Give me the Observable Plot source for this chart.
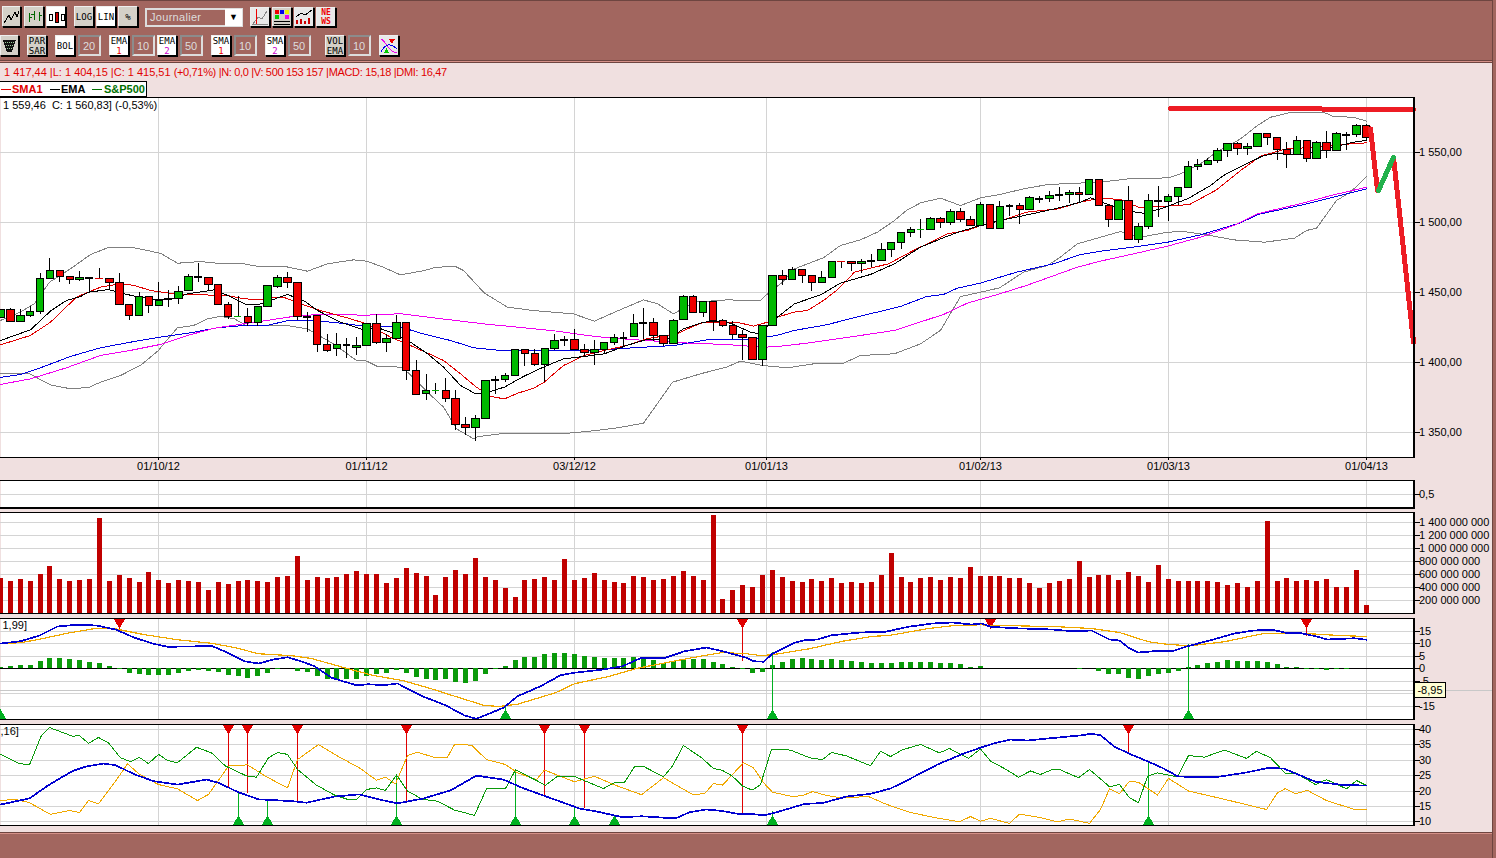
<!DOCTYPE html>
<html lang="fr"><head><meta charset="utf-8">
<script src="https://cdn.jsdelivr.net/npm/d3@7"></script>
<script src="https://cdn.jsdelivr.net/npm/@observablehq/plot@0.6"></script>
<style>
html,body{margin:0;padding:0;background:#f0e0e0;overflow:hidden;width:1496px;height:858px;font-family:"Liberation Sans",Arial,sans-serif;}
.abs{position:absolute;white-space:nowrap;}
.btn{position:absolute;box-sizing:border-box;border:1px solid #000;border-top-color:#eee;border-left-color:#eee;box-shadow:1px 1px 0 #000;font:9px/10px "DejaVu Sans Mono",monospace;text-align:center;color:#000;display:flex;align-items:center;justify-content:center;}
.inp{position:absolute;box-sizing:border-box;border:2px solid #8c8c8c;border-right-color:#ddd;border-bottom-color:#ddd;background:#a2665f;color:#ddd;font:11px/18px "Liberation Sans",sans-serif;padding-left:3px;}
svg.plot,svg{shape-rendering:crispEdges;}
svg text{shape-rendering:auto;}
</style></head><body>
<div id="chrome"></div>
<div id="panels"></div>
<script>
// ---------- price candles (index = trading day) ----------
const opens=[1431.9,1437.6,1429,1433.2,1436,1459.7,1465.5,1461,1459,1460,1459.8,1459.8,1456.9,1441,1433.2,1446.9,1440.3,1445,1445,1451,1461,1460.5,1455.5,1441,1432.6,1432.6,1428.3,1439.7,1454,1460.5,1456.9,1432.8,1433.2,1412.6,1409.7,1412.4,1410.5,1411.9,1427.4,1414,
1416.9,1428.3,1394,1377.6,1379.7,1379.7,1374,1355.5,1353.3,1359.7,1387.4,1387.6,1390.5,1409,1406.2,1398.3,1409.7,1415.9,1416.2,1409,1406.9,1409,1414,1417.8,1418.3,1428,1428.3,1419,1413.3,1430.5,
1446.9,1435.5,1443.3,1429.7,1426.2,1419.7,1417.6,1401.9,1426.2,1461.9,1459,1466.2,1461.9,1456.9,1460.5,1471.9,1471.9,1470.5,1472.4,1472.6,1480.5,1485.5,1492.6,1494.8,1494.8,1502.6,1499.8,1507.6,1501.9,1497.6,
1512.6,1495.5,1511.9,1511.9,1509,1517.1,1516.9,1519.5,1519.7,1521.2,1519.7,1530.5,1511.9,1501.9,1515.5,1487.6,1496.9,1515,1514.7,1518.3,1524.7,1539.7,1541.2,1544,1551.2,1556.2,1552.6,1554,1563.3,1560.5,
1551.9,1548.3,1558.3,1545.5,1556.9,1551.2,1562.8,1562.6,1569];
const highs=[1437.6,1438.3,1437.6,1440,1463.5,1474,1465.5,1461,1464.7,1460,1466.8,1459.8,1463.5,1441,1449.7,1446.9,1456.9,1451.4,1454,1462.6,1470.5,1460.5,1455.5,1442.6,1446.9,1438.3,1439.7,1454.7,1461.9,1464,1456.9,1435.5,1433.2,1419.8,1421,1416.9,1418,1427.4,1434,1419.8,
1433.2,1428.3,1401.2,1391.2,1384.7,1388.3,1379.7,1360.5,1361.9,1386.9,1389.7,1391.9,1409,1409,1409,1409.7,1419.7,1418.3,1423.3,1412.6,1415.5,1414,1419.7,1421.2,1434,1438.3,1431.2,1419,1430.5,1447.8,
1447.8,1443.8,1443.3,1430.5,1429,1422.6,1417.6,1426.2,1461.9,1465.5,1467.6,1466.2,1461.9,1464.8,1471.9,1471.9,1471.9,1473.3,1476.9,1484.8,1485.5,1492.6,1496.6,1501.9,1503.6,1503.3,1509.3,1510,1504,1514,
1512.6,1515,1512.6,1513.3,1518.6,1518.6,1522.1,1524.8,1522.6,1524.8,1530.5,1530.5,1511.9,1515.5,1525.7,1499,1520,1526,1519.7,1524.7,1543.6,1545,1545.5,1552.6,1556.2,1556.9,1556.2,1563.3,1563.3,1560.5,
1556.9,1561.2,1558.3,1557.6,1565,1564,1564,1569.7,1569.7];
const lows=[1431.9,1429,1429,1432.4,1434.3,1459.7,1457,1455.6,1457.5,1449.7,1459,1452,1441,1430,1433.2,1435,1440.3,1439,1441.6,1451,1456.9,1451.4,1441,1430.5,1432.6,1425.5,1425.5,1439.7,1453,1452.6,1429.7,1421.6,1407.4,1406.9,1404.5,1403,1405,1411.9,1412.6,1407.4,
1416.9,1387.4,1376.9,1372.6,1376.9,1371.2,1351.7,1347.6,1343.3,1359.7,1376.9,1385.9,1390.5,1397.4,1397.4,1385.5,1408.3,1411.2,1409,1403.3,1398,1405.5,1412,1410.5,1418.3,1416.2,1414.7,1411.2,1413.3,1430.5,
1435.5,1432.4,1422.4,1424.7,1416.2,1401.2,1401.9,1397.4,1426.2,1455,1459,1456.2,1451,1456.9,1460.5,1466.9,1464.8,1463.3,1467.6,1472.6,1475.2,1481,1489.5,1488.6,1494.8,1496,1497.6,1499.8,1497.6,1497.6,
1494.8,1495.5,1504.5,1498.3,1509,1513.3,1514.3,1514.8,1513.3,1514.3,1519.7,1511.9,1496.6,1501.9,1487.6,1484.8,1494.8,1503.8,1500.7,1512.1,1524.7,1537.4,1541.2,1541.9,1546.4,1547.8,1547.8,1554,1555,1544.5,
1538.3,1548.3,1543,1545.5,1546,1551.2,1551.4,1560.9,1558.3];
const closes=[1437.6,1429,1433.2,1436,1459.7,1465.5,1461,1459,1460.5,1460,1459.8,1456.9,1441,1433.2,1446.9,1440.3,1444,1445,1450.5,1461,1461,1455.5,1441,1432.6,1432.6,1428.3,1439.7,1454.7,1460.5,1456.9,1432.6,1432.8,1412.6,1408.3,1412.6,1412.4,1411.9,1427.4,1414,1416.9,
1428.3,1394,1376.9,1379.7,1379.7,1374,1355.5,1353.3,1359.7,1386.9,1387.4,1390.5,1409,1406.2,1398.3,1409.7,1415.5,1415.9,1409,1406.9,1409,1414,1417.6,1417.8,1427.6,1428,1419,1413.3,1429.7,1446.9,
1435.5,1443.3,1429.7,1426.2,1419.7,1417.6,1401.9,1426.2,1461.9,1459,1466.2,1461.9,1456.9,1460.5,1471.9,1471.9,1470.5,1471.9,1472.4,1480.5,1485.5,1492.6,1494.8,1494.8,1502.6,1499.8,1507.6,1501.9,1497.6,1512.6,
1495.5,1511.2,1511.9,1509,1517.6,1517.1,1519,1519.5,1521.2,1519.7,1530.5,1511.9,1501.9,1515.5,1487.6,1496.9,1515.5,1515,1518.3,1524.7,1539.7,1541.2,1544,1551.2,1556.2,1552.6,1554,1563.3,1560.5,1551.9,
1548.3,1558.3,1545.5,1556.9,1551.2,1563.3,1562.8,1569,1560.5];
const thinDoji={10:"#e00000",24:"#00b000",44:"#00b000",85:"#e00000",93:"#00b000"};
// ---------- indicators: reading index, reading value ----------
const bbUpIdx=[0,2,3.4,5,7.1,9.1,10.8,13.5,16.2,17.9,20.2,21.9,24.3,25.9,28.6,31,33,35.7,37,38.7,40.4,42.8,44,46,46.8,48.9,51.2,53.9,57.9,60,62,65,66.4,68,70,73.4,76.8,77.5,79,80.2,83.2,84.9,86.9,88.6,90.3,91.6,93,95,97,99,101,103.4,105.8,108.8,111.2,114,118,119.2,121.3,122.9,125.3,127,128.3,130.5,133.7,134.7,136.7,138];
const bbUpVal=[1430,1436,1442,1457.4,1466.9,1477.1,1481.9,1481.9,1478,1470.9,1472.1,1470.9,1470.9,1468.8,1468.8,1465.2,1470.5,1473.3,1472.4,1468,1462.6,1465.7,1468,1468.6,1465.7,1449.5,1439.5,1437.1,1434.7,1429.5,1435.9,1444.7,1441.9,1434.7,1443,1444.7,1444.3,1449,1457.4,1466.9,1474.8,1483.6,1487.6,1493.1,1501.4,1508.6,1514,1517.4,1512.1,1517.6,1520,1524,1527.1,1528.1,1528.8,1531.2,1531.9,1534.7,1541.9,1550.2,1559.7,1569.3,1575.2,1578.8,1578.8,1575.7,1575.2,1572.4];
const bbLoIdx=[0,2.9,5.1,7.1,8.9,10.1,12.1,14.1,16,16.8,17.9,19.5,20.9,22.2,23.6,24.9,26.6,29,31,33.7,36,37,38.1,40.4,41.1,43.1,44.8,46.1,47.8,48.3,50.5,56.6,59.3,62.3,65,67.9,70.7,73.4,74.8,77,79.5,82.2,85.2,86.9,90.3,93,95,97,99,101,103.4,105.8,107,108.8,111.2,113.2,115.2,117.9,119.6,122.3,124.6,127.7,130.8,132,133,135,136.4,138];
const bbLoVal=[1391.9,1391.9,1384,1381.2,1382.1,1385.9,1390.7,1397.9,1408.6,1415.7,1424.8,1426.4,1431.2,1432.9,1431.2,1426.2,1426.4,1426.4,1424,1413.3,1401.4,1401,1397.1,1396.7,1393.1,1378.8,1368.1,1352.6,1345.5,1347.1,1349,1349,1350.7,1353.3,1356.6,1385.9,1391.9,1396.7,1400.9,1397.8,1396.2,1399,1399.5,1405,1406.2,1413.3,1422.9,1447.1,1450.2,1453.3,1464.5,1469.3,1474.8,1484.8,1489.5,1493.5,1489.5,1493.1,1493.5,1490.7,1487.6,1485.9,1488.8,1494.3,1495.9,1515.7,1521.7,1532.8];
const ema50Idx=[0,2,4,7.1,10.1,13.1,16.2,19.2,21.9,24.6,26.9,29,32,35,37,40.4,42.4,45.5,47.8,50.5,53.9,57.9,61.3,64,68,71.4,74,76.3,78.4,80.2,83.5,86.9,90.9,93.6,95.3,96.7,99,102.7,106.4,109.1,111.2,114.5,117.9,121.3,125.3,127,131.3,134.7,138];
const ema50Val=[1389.3,1391.4,1396.2,1404.3,1410.5,1414.5,1418.1,1421.2,1424.8,1426.4,1426.4,1429.8,1429.8,1427.6,1425.7,1425.5,1420.9,1415.7,1410.5,1408.6,1408.3,1408.3,1409.3,1410.5,1412.1,1416.2,1416.2,1416.9,1419.3,1422.9,1426.9,1433.1,1440,1447.1,1448.6,1453.1,1456.7,1464.5,1470.5,1477.1,1479.5,1482.4,1485.9,1491.2,1499.7,1505.7,1512.1,1518.1,1524];
const sma50Idx=[0,3,6.7,10.1,13.1,16.2,18.9,21.6,24.6,26.9,29.6,32,37,40.4,43.8,48.8,52.2,56.2,59.3,61.3,65.3,69,73.4,77.1,78.5,81.8,86.9,90.3,95.3,97.7,100.4,103.7,108.8,111.2,114.5,117.9,121.3,124.6,127,131.3,134.7,138];
const sma50Val=[1384.3,1388.3,1396.2,1405,1408.6,1412.9,1419.3,1424.5,1427.6,1430,1432.9,1434.3,1433.8,1434.8,1431.9,1427.6,1425.2,1422.4,1419.3,1417.6,1415.7,1414,1412.8,1410.9,1411.4,1414,1419.3,1422.9,1434.3,1442.4,1447.9,1455,1468.1,1472.4,1477.6,1483.1,1489.5,1497.8,1506.2,1513.3,1519.7,1525.2];
const emaIdx=[0,3,5.1,6.7,8.1,8.9,10.9,12.5,14,15.8,17.5,18.9,21.6,22.9,24.9,26.6,28,29,30.7,32,34.4,36.7,38,40,41.4,43.1,44.8,46.5,48,49.5,50.9,52.9,54.9,56.9,59,61,63.3,65.3,67.4,69,71,72.4,73.8,75.8,76.6,78.5,80.2,83,84.9,87.9,90.3,93,95.6,97,99,101.4,103,106.5,109.1,110.1,111.8,114.2,115.5,117.2,119.9,122.3,123.6,125.9,127.6,129,131,133,134.7,136.7,138];
const emaVal=[1415.7,1423.3,1436.7,1444.3,1447.1,1450.2,1452.1,1449,1446.6,1444.8,1445.5,1449,1451.9,1447.9,1441.2,1441.9,1446.2,1448.6,1443.8,1437.1,1428.8,1423.3,1425.2,1420,1414.5,1406.2,1396.7,1383.6,1377.6,1379.3,1382.4,1390,1396.7,1402.6,1404.3,1406.2,1412.1,1416.4,1416.4,1424,1428.8,1429.3,1428.1,1421.7,1420.5,1432.4,1441.9,1448.6,1456.7,1462.9,1470.5,1482.4,1490,1493.6,1497.9,1501.9,1504.3,1509.7,1514.5,1517.6,1513.3,1508,1506.6,1509.7,1516.9,1526.4,1533.6,1541.9,1547.8,1549.7,1548.3,1550.2,1553.8,1557.4,1558.6];
const smaIdx=[0,3,5.1,7.7,10.1,12.1,13.5,15.2,17.5,20.2,22.9,24.6,26.6,27.6,28.6,30.3,32.3,35.4,37,39.4,41.4,43.1,44.8,46.5,48,49.5,50.9,52.2,53.9,54.9,56.9,59,61,63.3,65.3,68.4,69.4,71,74.4,76.1,77.5,78.5,80.2,81.5,83.2,84.5,86.3,89.7,92.3,95.7,97.7,99,101.4,103.7,106.8,109.1,111.2,113.2,115,117.9,120.1,122.9,125.3,127.3,130,133,135.4,138];
const smaVal=[1412.6,1419.3,1428.8,1446.7,1453.8,1456.2,1455,1451.4,1449,1448.3,1447.9,1445.5,1444.8,1446.6,1446.6,1441.9,1437.1,1431.2,1427.6,1418.1,1412.1,1406.7,1401.4,1391.9,1382.8,1375.7,1374,1378,1381.6,1385.5,1397.8,1405,1408.6,1412.1,1416.9,1420.5,1424,1428.8,1428.8,1426,1428.8,1432.4,1436,1437.1,1444.3,1451.4,1464.5,1470.5,1480,1491.9,1494.3,1497.9,1501.9,1507.4,1509.7,1514.5,1517.4,1516.4,1510.9,1511.7,1512.8,1523.3,1537.1,1547.4,1552.6,1553.8,1555.7,1556.9];
// hand-drawn overlays on the price panel
const resistIdx=[118.2,130.6,142.8], resistVal=[1581.2,1581.2,1580.7];
const dropAIdx=[138.44,139.1], dropAVal=[1566.9,1522.9];
const bounceIdx=[139.25,140.8], bounceVal=[1522.9,1546.6];
const dropBIdx=[140.8,142.75], dropBVal=[1546.6,1414.5];
// volume, in millions
const volume=[544,497,528,497,605,728,528,497,513,528,1467,497,590,544,482,636,513,467,513,497,482,359,482,451,497,513,497,482,559,574,882,513,559,544,559,605,651,605,605,467,544,697,620,574,282,559,667,605,851,559,513,390,251,513,528,559,513,836,513,544,620,513,482,467,574,559,513,528,574,651,574,513,1513,221,359,436,405,590,667,559,497,482,528,497,544,467,482,467,482,590,928,559,482,544,559,513,559,544,713,574,574,574,544,544,467,390,467,497,528,805,559,590,590,513,636,574,482,744,528,497,497,497,497,482,436,467,405,497,1421,497,544,497,513,497,528,405,405,667,128];
// MACD histogram, MACD, signal
const macdHist=[0.5,0.9,1.3,1.3,2.9,4.1,4.1,3.7,3.2,2.5,2.1,0.9,-0.5,-2.1,-2.5,-2.9,-2.9,-2.9,-2.1,-1.3,-0.9,-1.1,-1.7,-2.9,-3.3,-4.1,-3.3,-2.1,-0.5,0,-1.3,-1.7,-3.3,-4.5,-4.7,-4.5,-4.5,-3.3,-2.5,-2.1,-0.9,-2.1,-3.7,-4.5,-4.7,-4.4,-5.7,-5.9,-5.3,-2.5,-0.5,0.9,3.3,4.5,4.5,5.6,6.1,6.1,5.7,4.9,4.5,4.1,4.1,4.1,4.5,4.1,3.3,2.1,2.9,3.3,3.7,3.7,2.5,1.7,0.5,-0.5,-2.1,-1.5,1.3,2.5,3.7,4.1,3.7,3.3,3.7,3.3,2.9,2.5,2.1,2.1,2.1,2.5,2.5,2.5,2.5,2.1,2.1,1.7,0.5,0.9,0,0,0,0,0,0,0,0,0,-0.5,0,-1.3,-2.5,-2.5,-4.1,-4.5,-3.3,-2.5,-2.1,-1.1,0.5,1.3,2.1,2.5,3.3,2.9,2.9,2.9,2.5,1.7,0.4,0.4,-0.5,-0.5,-0.9,-0.5,-0.5,0,0];
const macdIdx=[0,2,3.9,5.8,7.7,9.7,11.6,13.5,15.5,16.9,19.3,21.3,22.7,24.7,26.1,27.6,29,30.5,31.7,33.4,34.8,36,37.2,38.7,40.1,41.6,42.6,45,46.9,48.1,50.8,52.2,54.6,56.6,58,60.9,62.9,64.8,67.2,69.1,71.3,73,75.4,76.1,77.1,78,80.2,81.2,82.6,84,86.9,89.4,91.8,94.2,96.2,98.1,99.1,100,102.5,106.3,108.3,110.2,112.1,113.1,114.1,115,116.5,118.4,119.9,122.3,124.7,126.6,128.5,129.9,131.5,132.9,134.1,136.8,138];
const macdVal=[10,10.9,13.2,16.8,17.5,17.2,15.6,12.3,9.9,8.7,8.8,9.1,6.7,2.9,2,3.6,4.5,2.7,0.9,-3.7,-5.3,-6.7,-6.3,-6.7,-6,-9.1,-11.1,-14.7,-18.8,-20.1,-15.7,-11.1,-7.1,-2.7,-1.7,-0.4,0.9,4.3,4.3,6.9,8.4,6.9,4.3,2.9,2.7,5.9,10.3,11.3,11.6,13.3,14.4,14.7,16.7,18,18.4,17.6,18,16.7,16.1,15.6,14.9,15.2,11.6,11.2,8,6.4,6.9,6.9,8.9,11.3,14,15.2,15.5,14.3,14.1,12.9,11.6,12.1,11.5];
const signalIdx=[0,2,3.9,6.8,9.7,11.4,14.5,17.9,21.3,23.7,26.1,29.5,31.4,34.8,37.7,40.6,43.5,46.4,48.8,50.3,52.2,56.1,58,61.4,64.3,67.7,71.1,73,75.4,76.8,78,81.7,85.1,88,89.9,93.8,96.2,99.1,100,102.5,106.9,110.2,113.1,116,118,120.3,123.7,127.6,131.9,135.3,138];
const signalVal=[10,10.3,11.7,14.1,16.1,16,13.6,11.5,10.1,8.3,5.9,5.1,4,0.3,-2.8,-4.8,-8,-11.7,-14.7,-15.2,-14.3,-9.7,-6.1,-3.2,0,2.7,5.2,6.4,5.9,5.2,5.5,7.9,10.9,12.8,13.3,16,17.1,17.5,17.1,17.1,16.7,16,14.4,10.7,9.6,9.1,10.7,14,14,13.2,12.8];
const macdSellIdx=[12,75,100,132], macdSellVal=[15.6,2.9,16.7,12.9];
const macdBuyIdx=[0,51,78,120], macdBuyVal=[-20.4,-15,6.3,9.6];
// DMI panel
const adxIdx=[0,2.9,4.8,7.3,8.7,10.4,11.6,13.5,15.5,17.9,20.8,22,23.9,26.1,29.5,30.9,33.8,36.3,38.2,40.1,42.6,45.5,48.1,50.8,52.7,55.1,58.5,60,62.9,64.8,68.2,69.6,71.3,73,74.5,75.8,77.1,78.3,81.2,83.1,85.5,87.9,89.9,91.8,94.7,97.1,99.1,100.5,102.1,103.8,106.3,109.2,110.2,111.2,112.6,114.1,116,117.4,118.9,120.4,122.8,125.7,128.1,129.6,130.9,132.9,135.8,138];
const adxVal=[15.6,17.6,21.9,26.5,28,28.9,28.4,25.4,23.2,22.1,23.7,22.7,19.7,17.3,16.7,16.2,18.2,18.9,17.3,16,17.5,20.2,25,23.7,21,18.3,14.3,13.5,11.5,11.8,11.1,13.1,14,13.5,12.6,12.6,12.1,13,15.8,16.1,18.2,19.1,20.8,23.7,28.6,31.9,34.2,35.6,36.7,36.4,37.2,38.1,38.6,38.1,34.4,32.1,29.5,27.5,24.8,24.5,24.5,25.9,27.5,27.3,25.7,23,21.9,21.8];
const plusIdx=[0,1.9,2.9,4.1,5,7.3,8,8.9,9.9,10.9,12.1,13.1,14,15,16,16.9,17.9,19.8,21.3,22.7,24.9,25.9,27.1,28,29,30,31.9,33.8,35.1,36,37,38,38.9,40,41.1,42.6,44.2,45.9,47.9,49.1,51,52,55.1,56.3,58,60.9,62.1,63.1,64.1,65,67,67.9,69,70.8,72,73,74,75,75.8,76.1,76.8,77.9,79.8,81.7,83.1,84,85.5,87.9,88.9,89.9,91.1,93,94.9,95.9,97.8,99,100,101.5,102.9,104.1,105.1,106.3,107,108.9,110,112.1,113.1,114.1,115,115.9,116.9,118.9,120,121.7,123.7,125.9,126.9,128.3,129.9,130.9,132.9,134,136,137,138];
const plusVal=[31.9,28.9,28.5,38.1,40.6,37.8,38,35.5,37.4,35.6,30.8,29.5,30.9,28.9,31.9,29.9,29.2,34.2,32.4,28.1,24.9,24.5,30.8,32.5,31.9,27,21.9,18.7,17.3,17.3,20.5,21,20.2,25.2,20,17.3,16.7,13.8,12.1,20.7,20.8,26.9,21.9,24.8,24.7,20.8,22.9,22.8,27.9,28,24.6,28.1,34.8,30.8,27.3,26.7,24.8,21.6,20.5,20.5,22.1,33.5,33.3,30.8,30.2,32.5,31.4,28.2,32.9,31.2,33.4,35.1,32.4,33.8,30.6,33.7,29.7,27.3,24.5,26.5,25.4,27,27,24.3,27,21.4,22.1,17.8,16.2,24.8,25.9,24.6,31.5,31,33.3,30.6,32.9,30.8,25.7,25.9,22.1,23.7,20.7,23.4,21.8];
const minusIdx=[0,1.5,2.9,5.1,7,8,8.9,9.9,11.6,12.8,14,16,17.9,19.9,21,23,25,26.8,29,30,32.1,34.3,36.3,38,38.9,39.9,41.1,42.1,44,45.2,45.9,47.6,49.1,51,52.2,54.2,55,58,60,61.9,64.8,67,69.9,71.1,72,73,75.1,76.1,77.1,78,80,81,82.1,83.6,85,87.7,89.4,91.8,94.2,96.9,98,99,100,102,103,104.9,106.8,108,110,111.2,112.1,113.1,114.1,115,116.9,118,120,123.7,127.9,129,129.9,130.9,132.1,134,136.8,138];
const minusVal=[16.9,17.3,16.2,12.4,13.7,13,16.9,15.8,23.2,28.8,25.4,22.1,20.7,16.9,18.9,28.1,28.5,24.8,21,30.2,35.1,31,27.5,23.5,24.5,22.3,31.5,32.6,30.8,31,35.1,34.9,30.2,28.6,25.9,23.7,26.8,23,24.8,22.1,18.8,24.3,18.9,19.1,22.4,21.9,29.2,27.5,22.7,19.6,18.2,18.5,19.8,18.5,17.8,18.2,15.8,13.2,11.5,10,11.7,10.2,11.1,9.5,12.5,11.5,10,10.9,9.5,14,20.7,19.1,23.2,22.8,18.7,24.1,20,17.3,14,19.4,20.8,19.1,20.2,16.9,14,14];
const dmiSellIdx=[23,25,30,41,55,59,75,114], dmiSellVal=[21,19.1,16.5,16.2,18.3,14.3,12.6,31.9];
const dmiBuyIdx=[24,27,40,52,58,62,78,116], dmiBuyVal=[19.4,17.3,25.4,26.7,15,11.3,13.5,29.7];
// axes
const dateTicks=[16,37,58,77.44,99,118,138];
const dateLabels=["01/10/12","01/11/12","03/12/12","01/01/13","01/02/13","01/03/13","01/04/13"];
const priceTicks=[1350,1400,1450,1500,1550];
const unitTick=[0.5];
const volumeTicks=[200,400,600,800,1000,1200,1400];
const macdTicks=[15,10,5,0,-5,-10,-15];
const macdLabels=[15,10,5,0,-5,-15];
const dmiTicks=[10,15,20,25,30,35,40];
// toolbar labels
const row1=[[2,19,"~","g"],[24,20,"o","g"],[46,20,"c","w"],[74,20,"LOG","g"],[96,20,"LIN","w"],[118,20,"%","g"]];
const row1Icons=[250,272,294,316];
const row2=[[0,19,"u","g"],[27,20,"PAR<br>SAR","g"],[55,20,"BOL","w"],[109,20,"EMA<br><span style='color:#e00'>1</span>","w"],[157,20,"EMA<br><span style='color:#c0c'>2</span>","w"],[211,20,"SMA<br><span style='color:#e00'>1</span>","w"],[265,20,"SMA<br><span style='color:#c0c'>2</span>","w"],[325,20,"VOL<br>EMA","g"]];
const row2Inputs=[[78,"20"],[132,"10"],[180,"50"],[234,"10"],[288,"50"],[348,"10"]];

const FONT="'Liberation Sans',Arial,sans-serif";
const chrome=document.getElementById("chrome");
function el(cls,css,html){const d=document.createElement("div");d.className=cls;d.style.cssText=css;d.innerHTML=html||"";chrome.appendChild(d);return d;}
const BROWN="#a2665f";
el("abs",`left:0;top:0;width:1496px;height:60px;background:${BROWN};border-top:1px solid #6e4540`);
el("abs",`left:0;top:60px;width:1496px;height:1px;background:#6e4540`);
el("abs",`left:0;top:61px;width:1496px;height:1px;background:#d49088`);
el("abs",`left:0;top:62px;width:1496px;height:1px;background:#6e4540`);
el("abs",`left:0;top:832px;width:1496px;height:1px;background:#6e4540`);
el("abs",`left:0;top:833px;width:1496px;height:1px;background:#d49088`);
el("abs",`left:0;top:834px;width:1496px;height:24px;background:${BROWN}`);
el("abs",`left:1492px;top:0;width:4px;height:858px;background:${BROWN};border-left:1px solid #6e4540`);
const glyph={
 "~":'<svg width="17" height="16"><path d="M1 14L6 6L8 11L12 3L14 8L16 2" fill="none" stroke="#000"/></svg>',
 "o":'<svg width="18" height="16"><path d="M4 4V13M4 8H7M9 2V11M9 5H6M14 3V12M14 6H17" fill="none" stroke="#060"/></svg>',
 "c":'<svg width="18" height="16"><rect x="2" y="5" width="3" height="6" fill="none" stroke="#000"/><rect x="8" y="3" width="3" height="10" fill="#c00" stroke="#000"/><rect x="14" y="5" width="3" height="6" fill="none" stroke="#000"/></svg>',
 "u":'<svg width="15" height="15"><path d="M1 2H14L10 14H5Z" fill="#111"/><path d="M3 4H12M4 7H11M5 10H10" stroke="#9c9" stroke-dasharray="1 1"/></svg>'};
function btn(x,y,w,label,kind){el("btn",`left:${x}px;top:${y}px;width:${w}px;height:21px;background:${kind==="w"?"#fff":"#d4d0c8"}`,glyph[label]||`<div>${label}</div>`);}
row1.forEach(([x,w,l,k])=>btn(x,6,w,l,k));
row2.forEach(([x,w,l,k])=>btn(x,35,w,l,k));
row2Inputs.forEach(([x,t])=>el("inp",`left:${x}px;top:35px;width:23px;height:21px;`,t));
el("inp",`left:145px;top:8px;width:98px;height:19px;border-color:#ddd;line-height:15px;letter-spacing:.3px`,"Journalier");
el("abs",`left:225px;top:9px;width:17px;height:17px;background:#fff;text-align:center;font:9px/17px sans-serif`,"▼");
const ic1=[
 '<svg width="18" height="18"><path d="M2 16L7 9L11 11L16 3" fill="none" stroke="#888"/><path d="M5 1V17" stroke="#e00"/><path d="M1 16H17" stroke="#888"/></svg>',
 '<svg width="18" height="18"><rect x="2" y="2" width="4" height="4" fill="#e00"/><rect x="7" y="2" width="4" height="4" fill="#00e"/><rect x="12" y="2" width="4" height="4" fill="#ee0"/><rect x="2" y="7" width="4" height="4" fill="#0c0"/><rect x="12" y="7" width="4" height="4" fill="#e0e"/><path d="M1 13H17M1 16H17" stroke="#000"/></svg>',
 '<svg width="18" height="18"><path d="M1 9L6 5L10 7L17 2" fill="none" stroke="#000"/><path d="M2 16V12M6 16V11M10 16V13M14 16V10" stroke="#c00" stroke-width="2"/></svg>',
 '<div style="color:#e00;font:bold 8px/9px \'DejaVu Sans Mono\',monospace">NE<br>WS</div>'];
row1Icons.forEach((x,i)=>el("btn",`left:${x}px;top:7px;width:20px;height:20px;background:${i===1?"#d4d0c8":"#e8e8e8"}`,ic1[i]));
el("btn",`left:379px;top:35px;width:20px;height:21px;background:#e8e8e8`,'<svg width="18" height="18"><path d="M1 2C6 4 8 15 17 16" fill="none" stroke="#e0e"/><path d="M1 15C6 6 10 6 17 12" fill="none" stroke="#00e"/><path d="M9 2H15L12 7Z" fill="#e00"/><path d="M4 16H9L6.5 11Z" fill="#0c0"/></svg>');
el("abs",`left:4px;top:66px;color:#e00000;font:11px/13px ${FONT}`,`1 417,44 |L: 1 404,15 |C: 1 415,51 <span style="letter-spacing:-.33px">(+0,71%) |N: 0,0 |V: 500 153 157 |MACD: 15,18 |DMI: 16,47</span>`);
el("abs",`left:-1px;top:81px;width:146px;height:14px;background:#fff;border:1px solid #000;font:bold 11px/14px ${FONT}`,
 `<span style="position:absolute;left:1px;top:7px;width:10px;height:1px;background:#e00000"></span><span style="position:absolute;left:12px;color:#e00000">SMA1</span>
  <span style="position:absolute;left:50px;top:7px;width:10px;height:1px;background:#000"></span><span style="position:absolute;left:61px;color:#000">EMA</span>
  <span style="position:absolute;left:92px;top:7px;width:10px;height:1px;background:#007000"></span><span style="position:absolute;left:104px;color:#007000">S&amp;P500</span>`);

// ---------- plotting ----------
const GRID="#d4d4d4", X_END=1413.5, STEP=9.896, xMax=X_END/STEP;
const idx=d3.range(opens.length);
const poly=(xs,ys,stroke,strokeWidth=1)=>Plot.line(xs.map((_,i)=>i),{x:i=>xs[i],y:i=>ys[i],stroke,strokeWidth});
const frame=()=>[Plot.frame({anchor:"top",strokeWidth:1.5}),Plot.frame({anchor:"bottom",strokeWidth:1.5}),Plot.frame({anchor:"right",strokeWidth:1.5})];
function panel({top,bottom,domain,ticks,labels,fmt,marks,mb=3,xAxis=false}){
  const mt=2, height=bottom-top+mt+mb;
  const p=Plot.plot({width:1496,height,marginLeft:0,marginRight:1496-X_END,marginTop:mt,marginBottom:mb,
    style:{background:"transparent",fontFamily:FONT,fontSize:"11px",overflow:"hidden",color:"#000"},
    x:{domain:[0,xMax],axis:null,round:true},y:{domain,axis:null},
    marks:[Plot.frame({fill:"#fff",stroke:null}),
      Plot.ruleX(dateTicks,{stroke:GRID}),
      Plot.ruleY(ticks,{stroke:GRID}),
      ...marks,
      ...frame(),
      Plot.axisY(labels||ticks,{anchor:"right",tickSize:5,tickPadding:0,tickFormat:fmt,label:null,stroke:"#000",fill:"#000"}),
      ...(xAxis?[Plot.axisX(dateTicks,{anchor:"bottom",tickSize:3,tickPadding:2,tickFormat:(d)=>dateLabels[dateTicks.indexOf(d)],label:null,stroke:"#000",fill:"#000"})]:[])
    ]});
  p.style.position="absolute";p.style.left="0";p.style.top=(top-mt)+"px";p.style.maxWidth="none";
  document.getElementById("panels").appendChild(p);
}
const spaced=n=>String(n).replace(/\B(?=(\d{3})+(?!\d))/g," ");
const priceFmt=v=>spaced(v)+",00";
const signals=(xs,ys,color,edge,up)=>[
  Plot.ruleX(xs.map((_,i)=>i),{x:i=>xs[i],y1:()=>edge,y2:i=>ys[i],stroke:color}),
  Plot.dot(xs.map((_,i)=>i),{x:i=>xs[i],y:()=>edge,symbol:"triangle",r:4,fill:color,stroke:"none",rotate:up?0:180,dy:up?-4:4})];

panel({top:97,bottom:457,domain:[1332.1,1589.3],ticks:priceTicks,fmt:priceFmt,mb:30,xAxis:true,marks:[
  poly(bbUpIdx,bbUpVal,"#808080"),poly(bbLoIdx,bbLoVal,"#808080"),
  poly(ema50Idx,ema50Val,"#0000e0",1),poly(sma50Idx,sma50Val,"#f000f0",1),
  poly(smaIdx,smaVal,"#e00000"),poly(emaIdx,emaVal,"#000"),
  Plot.ruleX(idx,{x:i=>i,y1:i=>lows[i],y2:i=>highs[i],stroke:"#000"}),
  Plot.rect(idx.filter(i=>opens[i]!==closes[i]),{x1:i=>i-0.38,x2:i=>i+0.38,y1:i=>opens[i],y2:i=>closes[i],
    fill:i=>closes[i]>opens[i]?"#00b900":"#f00000",stroke:"#000",strokeWidth:1}),
  Plot.ruleY(idx.filter(i=>opens[i]===closes[i]&&!thinDoji[i]),{x1:i=>i-0.38,x2:i=>i+0.38,y:i=>opens[i],stroke:"#000",strokeWidth:2}),
  Plot.ruleY(idx.filter(i=>thinDoji[i]),{x1:i=>i-0.38,x2:i=>i+0.38,y:i=>opens[i],stroke:i=>thinDoji[i]}),
  poly(resistIdx,resistVal,"#ed1c24",5),
  poly(dropAIdx,dropAVal,"#ed1c24",5),poly(dropBIdx,dropBVal,"#ed1c24",5),poly(bounceIdx,bounceVal,"#22b14c",5)
]});
panel({top:479.5,bottom:507,domain:[0,1],ticks:unitTick,fmt:v=>String(v).replace(".",","),marks:[]});
panel({top:511.5,bottom:612.5,domain:[0,1554],ticks:volumeTicks,fmt:v=>spaced(v*1e6),marks:[
  Plot.ruleX(idx,{x:i=>i,y1:()=>0,y2:i=>volume[i],stroke:"#c00000",strokeWidth:5})
]});
panel({top:617.5,bottom:718.5,domain:[-20.4,20],ticks:macdTicks.filter(v=>v!==0),labels:macdLabels,fmt:d=>String(d),marks:[
  Plot.ruleY([-8.95],{x1:()=>0,x2:()=>150.8,stroke:"#c8c8c8"}),
  Plot.ruleY([0],{stroke:"#000",strokeWidth:1}),
  Plot.ruleX(idx,{x:i=>i,y1:()=>0,y2:i=>macdHist[i],stroke:"#0a9a0a",strokeWidth:5}),
  ...signals(macdSellIdx,macdSellVal,"#e00000",20,false),
  ...signals(macdBuyIdx,macdBuyVal,"#00b020",-20.4,true),
  poly(signalIdx,signalVal,"#f0a800",1.2),poly(macdIdx,macdVal,"#0000d0",1.7),
  Plot.text(["1,99]"],{frameAnchor:"top-left",dx:2,dy:3,fill:"#000",textAnchor:"start"})
]});
panel({top:723.5,bottom:824.5,domain:[8.8,41.6],ticks:dmiTicks,fmt:d=>String(d),marks:[
  ...signals(dmiSellIdx,dmiSellVal,"#e00000",41.6,false),
  ...signals(dmiBuyIdx,dmiBuyVal,"#00b020",8.8,true),
  poly(minusIdx,minusVal,"#f0a800",1),poly(plusIdx,plusVal,"#0a9a0a",1),poly(adxIdx,adxVal,"#0000d0",1.7),
  Plot.text([",16]"],{frameAnchor:"top-left",dx:0,dy:3,fill:"#000",textAnchor:"start"})
]});
// text on top of the panels
const over=document.createElement("div");
over.innerHTML=`<div class="abs" style="left:3px;top:99px;font:11px/13px ${FONT};color:#000">1 559,46 &nbsp;C: 1 560,83] (-0,53%)</div>
<div class="abs" style="left:1414px;top:682px;width:30px;height:14px;box-sizing:content-box;border:1px solid #000;background:#ffffd4;font:11px/14px ${FONT};text-align:center;color:#000">-8,95</div>`;
document.body.appendChild(over);
</script>
</body></html>
